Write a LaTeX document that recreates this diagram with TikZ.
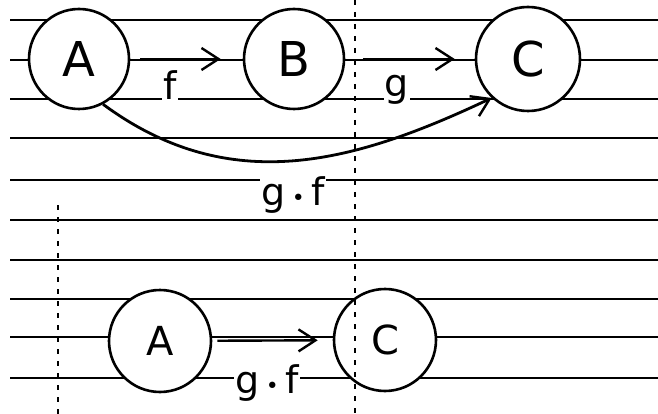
\documentclass[tikz,border=0pt]{standalone}
\usepackage{fontspec}
\setmainfont{DejaVu Sans}
\usetikzlibrary{arrows.meta}
\begin{document}
\begin{tikzpicture}[x=1pt,y=-1pt,
  ruled/.style={line width=1.3pt},
  marginline/.style={line width=1.6pt, dash pattern=on 5pt off 7pt},
  obj/.style={circle, draw, line width=2.6pt, fill=white, minimum size=100pt, inner sep=0pt, font=\fontsize{48}{48}\selectfont},
  objs/.style={obj, minimum size=102pt, font=\fontsize{40}{40}\selectfont},
  mor/.style={line width=2.4pt, -{Straight Barb[length=17pt,width=22pt,line width=2.4pt]}},
  lbl/.style={fill=white, inner sep=1pt, font=\fontsize{38}{38}\selectfont}
]
\useasboundingbox (0,0) rectangle (658,414);
\fill[white] (0,0) rectangle (658,414);
\foreach \yy in {20,60,99,138,180,220,260,299,337,378}
  \draw[ruled] (10,\yy) -- (658,\yy);
% objects
\node[obj] (A) at (79,59) {A};
\node[obj] (B) at (294,59) {B};
\node[obj, minimum size=104pt] (C) at (528,59) {C};
\node[objs] (A2) at (160,341) {A};
\node[objs] (C2) at (385,340) {C};
% morphisms
\draw[mor, shorten <=10pt, shorten >=22pt] (A) -- (B);
\draw[mor, shorten <=18pt, shorten >=20pt] (B) -- (C);
\draw[mor, shorten <=5pt, shorten >=15pt] (A2) -- (C2);
\draw[mor, line width=2.8pt] (A.-62) .. controls (230,198) and (354,163) .. (C.-133);
% labels
\node[lbl] (f) at (170,85) {f};
\node[lbl] (g) at (397,90) {g};
\node[lbl] (gf) at (293,195) {g\,{\fontsize{22}{22}\selectfont •}\,f};
\node[lbl] (gf2) at (267,383) {g\,{\fontsize{22}{22}\selectfont •}\,f};
% margin lines
\draw[marginline] (355,0) -- (355,414);
\draw[marginline] (58,205) -- (58,414);
\end{tikzpicture}
\end{document}
